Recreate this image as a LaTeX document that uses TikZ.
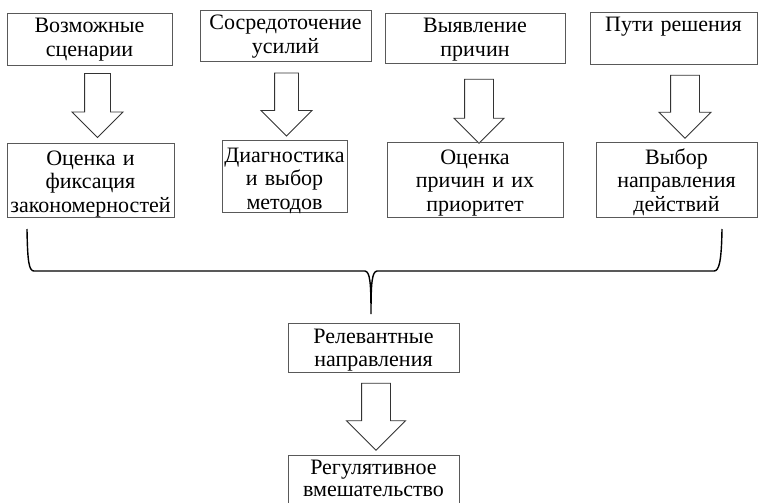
\documentclass[tikz,border=0pt]{standalone}
\usepackage{fontspec}
\setmainfont{Liberation Serif}
\usetikzlibrary{shapes.arrows}
\definecolor{boxline}{gray}{0.35}
\tikzset{
    box/.style = {rectangle, draw=boxline, line width=0.9pt, align=center, anchor=north, inner xsep=2pt, inner ysep=4pt, text height=15.5pt, font=\fontsize{22}{23.5}\selectfont},
    boxlow/.style = {box, text height=18pt},
    bigarrow/.style = {single arrow, draw=black!80, line width=0.9pt, shape border rotate=270, minimum height=64pt, minimum width=50pt, single arrow head extend=12.5pt, inner sep=12.5pt}
}

\begin{document}
\begin{tikzpicture}[x=1pt,y=-1pt]
\useasboundingbox (0,0) rectangle (758,503);
% top row
\node[box, text width=161pt, text depth=28.5pt] at (89.5,13) (s1) {Возможные\\сценарии};
\node[box, text width=167pt, text depth=27.5pt] at (285.5,10) (s2) {Сосредоточение\\усилий};
\node[box, text width=176pt, text depth=26.5pt] at (475,13) (s3) {Выявление\\причин};
\node[box, text width=163pt, text depth=28.5pt] at (673.5,12) (s4) {Пути решения};
%
\node[bigarrow] at (97.5,99) (a1) {};
\node[bigarrow, minimum height=63pt, inner sep=11.5pt, single arrow head extend=13.5pt] at (286.5,98.5) (a2) {};
\node[bigarrow, minimum width=49pt, inner sep=14pt, single arrow head extend=10.5pt] at (479,104) (a3) {};
\node[bigarrow, minimum height=63pt, minimum width=51pt, inner sep=14pt, single arrow head extend=11.5pt] at (685,99.5) (a4) {};
% second row
\node[boxlow, text width=163pt, text depth=48pt] at (90.5,143) (b1) {Оценка и\\фиксация\\закономерностей};
\node[boxlow, text width=121pt, text depth=46pt] at (284.5,140) (b2) {Диагностика\\и выбор\\методов};
\node[boxlow, text width=172pt, text depth=49pt] at (475,142) (b3) {Оценка\\причин и их\\приоритет};
\node[boxlow, text width=157pt, text depth=49pt] at (676.5,142) (b4) {Выбор\\направления\\действий};
% brace
\draw[line width=1.4pt] (27,229) .. controls (27.5,262) and (29,271) .. (34,271) -- (365,271)
  .. controls (370,272) and (371,282) .. (371,314)
  .. controls (371,282) and (372,272) .. (377,271) -- (714,271)
  .. controls (719,271) and (721.5,262) .. (722,229);
% bottom
\node[box, text width=167pt, text height=16pt, text depth=25pt] at (373.5,323) (r1) {Релевантные\\направления};
\node[bigarrow, minimum height=67pt, minimum width=58pt, inner sep=14pt, single arrow head extend=15pt] at (376,409.5) (a5) {};
\node[box, text width=167pt, text height=15pt, text depth=28pt, font=\fontsize{22}{22.5}\selectfont] at (373.5,455) (r2) {Регулятивное\\вмешательство};
\end{tikzpicture}
\end{document}
